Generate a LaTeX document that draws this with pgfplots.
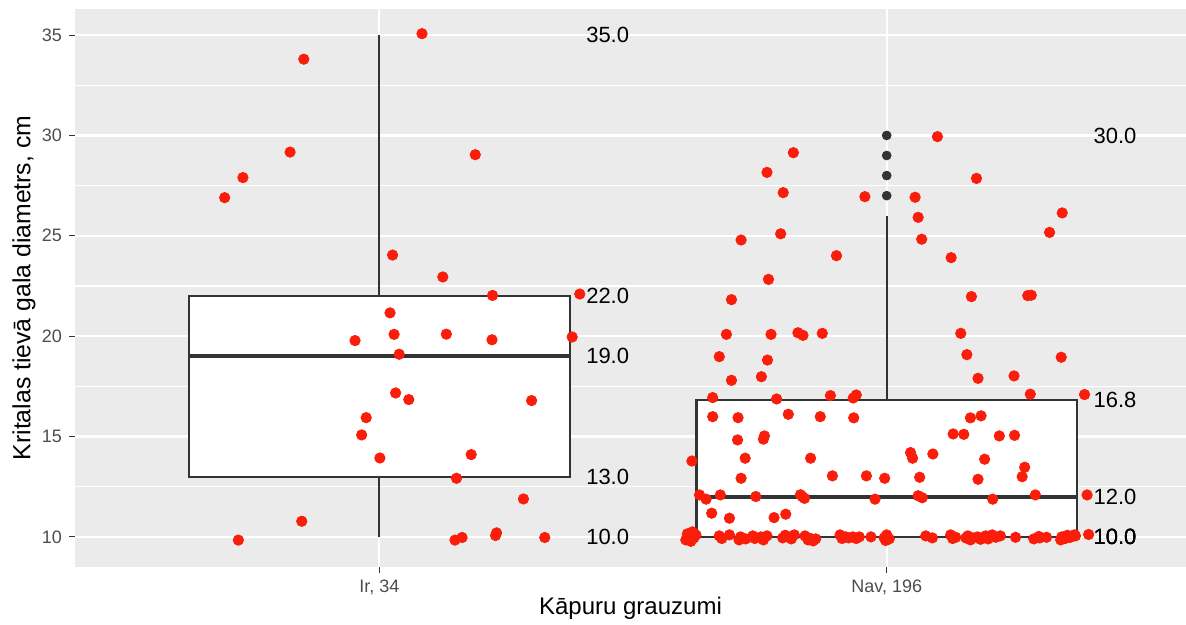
\documentclass[border=0pt]{standalone}
\usepackage{pgfplots}
\pgfplotsset{compat=1.18}
\usepackage{fontspec}
\setmainfont{Liberation Sans}
\definecolor{panel}{HTML}{EBEBEB}
\definecolor{gray20}{HTML}{333333}
\definecolor{gray30}{HTML}{4D4D4D}
\definecolor{ptred}{HTML}{FA1E0A}

% jittered points, group "Ir, 34"
\pgfplotstableread{
x y
1.084 35.07
0.851 33.80
0.824 29.17
0.731 27.90
0.695 26.90
1.189 29.04
1.026 24.04
1.125 22.95
1.223 22.03
1.395 22.10
1.021 21.16
0.952 19.78
1.029 20.09
1.132 20.10
1.222 19.82
1.380 19.96
1.039 19.10
1.032 17.17
1.058 16.84
1.300 16.79
0.974 15.94
0.965 15.08
1.001 13.93
1.181 14.10
1.152 12.92
1.284 11.89
0.847 10.78
0.722 9.84
1.149 9.84
1.163 9.97
1.229 10.07
1.231 10.20
1.326 9.97
}\irpts

% jittered points, group "Nav, 196"
\pgfplotstableread{
x y
1.816 29.14
1.764 28.16
1.796 27.15
1.957 26.95
1.713 24.79
1.791 25.10
1.901 24.01
1.767 22.83
1.694 21.82
2.100 29.94
2.177 27.86
2.056 26.92
2.062 25.92
2.069 24.83
2.346 26.14
2.321 25.17
2.127 23.91
2.167 21.97
2.278 22.02
2.285 22.04
1.684 20.09
1.772 20.09
1.825 20.17
1.835 20.04
1.873 20.14
1.670 18.98
1.765 18.81
1.694 17.80
1.753 17.98
1.657 16.94
1.783 16.87
1.889 17.04
1.934 16.92
1.940 17.07
1.657 15.99
1.707 15.94
1.806 16.11
1.869 15.99
1.935 15.93
1.706 14.83
1.759 15.03
1.757 14.87
1.721 13.92
1.850 13.92
1.616 13.78
1.713 12.92
1.893 13.04
1.960 13.04
1.996 12.92
2.146 20.14
2.158 19.08
2.344 18.95
2.180 17.90
2.251 18.02
2.283 17.11
2.390 17.09
2.165 15.93
2.186 16.03
2.131 15.13
2.152 15.11
2.222 15.03
2.252 15.06
2.047 14.20
2.051 13.92
2.091 14.13
2.193 13.87
2.272 13.47
2.267 13.00
2.065 12.97
2.180 12.87
1.631 12.09
1.644 11.88
1.672 12.09
1.742 12.01
1.830 12.10
1.838 11.92
1.834 12.00
1.977 11.88
2.062 12.05
2.070 11.95
2.209 11.88
2.293 12.09
2.395 12.09
1.655 11.18
1.690 10.93
1.778 10.96
1.801 11.13
1.604 9.85
1.607 10.15
1.610 10.05
1.614 9.78
1.617 10.25
1.620 9.95
1.624 10.10
1.670 10.05
1.675 9.92
1.690 10.10
1.709 9.85
1.712 10.00
1.722 9.90
1.736 10.05
1.740 9.92
1.752 10.00
1.757 9.85
1.764 10.05
1.795 9.95
1.800 10.08
1.805 10.00
1.812 9.90
1.818 10.10
1.839 10.05
1.845 9.85
1.850 9.92
1.855 9.80
1.860 9.90
1.908 10.10
1.912 9.92
1.919 10.00
1.925 9.95
1.933 10.00
1.940 9.92
1.946 10.00
1.969 10.00
1.995 9.95
1.998 9.82
2.000 10.10
2.005 9.90
2.077 10.05
2.090 9.95
2.126 10.10
2.130 9.92
2.136 9.98
2.156 9.95
2.160 10.05
2.165 9.85
2.170 9.95
2.179 10.00
2.185 9.88
2.188 9.95
2.195 10.05
2.198 10.02
2.200 9.90
2.208 10.10
2.215 9.98
2.224 10.05
2.254 9.98
2.290 9.90
2.300 10.02
2.302 9.95
2.315 9.98
2.343 9.85
2.345 10.00
2.352 9.92
2.356 10.08
2.362 9.98
2.366 10.05
2.370 10.10
2.372 10.05
2.398 10.12
}\navpts

\begin{document}
\begin{tikzpicture}
\begin{axis}[
  at={(0,0)}, anchor=south west,
  scale only axis, width=555.5pt, height=279pt,
  xmin=0.4, xmax=2.59, ymin=8.5, ymax=36.3,
  axis line style={draw=none},
  axis background/.style={fill=panel},
  xtick={1,2}, xticklabels={{Ir, 34},{Nav, 196}},
  ytick={10,15,...,35},
  minor ytick={12.5,17.5,...,32.5},
  grid=both,
  major grid style={white, line width=1.1pt},
  minor grid style={white, line width=0.55pt},
  tick pos=left, tick align=outside,
  major tick length=3pt, minor tick length=0pt,
  tick style={gray20, line width=0.55pt},
  ticklabel style={font=\fontsize{9}{10}\selectfont, text=gray30},
  /pgf/number format/assume math mode=true,
  xlabel={Kāpuru grauzumi},
  ylabel={Kritalas tievā gala diametrs, cm},
  every axis y label/.style={at={(axis description cs:-0.046,0.5)}, rotate=90, anchor=center,
    font=\fontsize{12.4}{14}\selectfont},
  every axis x label/.style={at={(axis description cs:0.5,-0.074)}, anchor=center,
    font=\fontsize{12}{14}\selectfont},
]
% boxes: Ir (10, 13, 19, 22, 35), Nav (10, 10, 12, 16.8, 26)
\addplot[gray20, line width=1.1pt] coordinates {(1,22) (1,35)};
\addplot[gray20, line width=1.1pt] coordinates {(1,10) (1,13)};
\addplot[draw=gray20, fill=white, line width=1.1pt, line join=miter]
  coordinates {(0.625,13) (1.375,13) (1.375,22) (0.625,22)} -- cycle;
\addplot[gray20, line width=2.1pt] coordinates {(0.625,19) (1.375,19)};
\addplot[gray20, line width=1.1pt] coordinates {(2,16.8) (2,26)};
\addplot[draw=gray20, fill=white, line width=1.1pt, line join=miter]
  coordinates {(1.625,10) (2.375,10) (2.375,16.8) (1.625,16.8)} -- cycle;
\addplot[gray20, line width=2.1pt] coordinates {(1.625,12) (2.375,12)};
% outliers
\addplot[only marks, mark=*, mark size=2.2pt, gray20] coordinates {(2,27) (2,28) (2,29) (2,30)};
% jitter
\addplot[only marks, mark=*, mark size=2.6pt, ptred] table {\irpts};
\addplot[only marks, mark=*, mark size=2.6pt, ptred] table {\navpts};
% value labels
\addplot[draw=none, mark=none, point meta=explicit symbolic, nodes near coords,
  every node near coord/.style={anchor=center, font=\fontsize{11}{13}\selectfont, text=black}]
  coordinates {(1.45,35) [35.0] (1.45,22) [22.0] (1.45,19) [19.0] (1.45,13) [13.0] (1.45,10) [10.0]
  (2.45,30) [30.0] (2.45,16.8) [16.8] (2.45,12) [12.0] (2.45,10) [10.0] (2.45,10) [10.0] (2.45,10) [10.0]};
\end{axis}
\pgfresetboundingbox
\path[use as bounding box] (-37.5pt,-29pt) rectangle (555.5pt,283.5pt);
\end{tikzpicture}
\end{document}
